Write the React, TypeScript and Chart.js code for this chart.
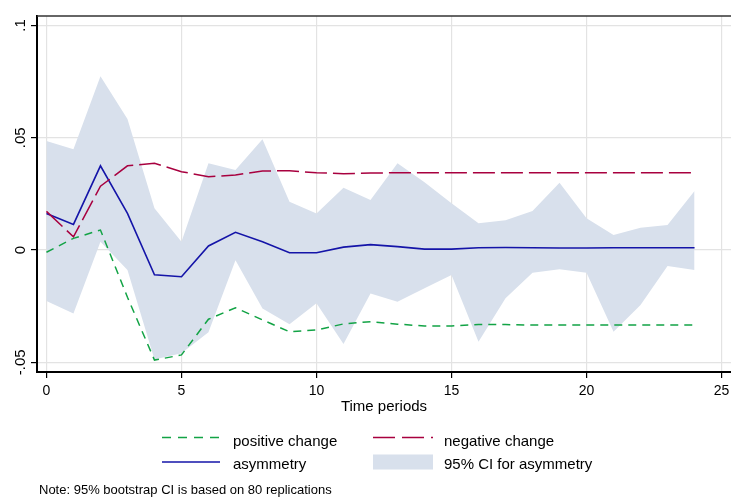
import { useEffect, useRef } from "react";
import { Chart, registerables } from "chart.js";

Chart.register(...registerables);

// ---- data ----
const PERIODS = [0, 1, 2, 3, 4, 5, 6, 7, 8, 9, 10, 11, 12, 13, 14, 15, 16, 17, 18, 19, 20, 21, 22, 23, 24];
const POSITIVE = [-0.001, 0.0052, 0.0089, -0.021, -0.049, -0.0467, -0.0308, -0.0257, -0.0311, -0.0364, -0.0356, -0.0329, -0.0319, -0.033, -0.0338, -0.0338, -0.0332, -0.0332, -0.0334, -0.0334, -0.0334, -0.0334, -0.0334, -0.0334, -0.0334];
const NEGATIVE = [0.0172, 0.0059, 0.0284, 0.0375, 0.0386, 0.0349, 0.0326, 0.0334, 0.0352, 0.0353, 0.0344, 0.034, 0.0343, 0.0344, 0.0344, 0.0344, 0.0344, 0.0344, 0.0344, 0.0344, 0.0344, 0.0344, 0.0344, 0.0344, 0.0344];
const ASYMMETRY = [0.0163, 0.0114, 0.0375, 0.0163, -0.011, -0.0119, 0.0018, 0.0079, 0.0037, -0.0012, -0.0012, 0.0013, 0.0024, 0.0015, 0.0004, 0.0004, 0.001, 0.0011, 0.001, 0.0009, 0.0009, 0.001, 0.001, 0.001, 0.001];
const CI_UPPER = [0.0485, 0.0449, 0.0774, 0.0583, 0.0186, 0.0037, 0.0386, 0.0356, 0.0493, 0.0215, 0.0163, 0.0277, 0.0223, 0.0386, 0.0302, 0.0208, 0.0119, 0.0133, 0.0174, 0.03, 0.0141, 0.0067, 0.0099, 0.0111, 0.0263];
const CI_LOWER = [-0.0227, -0.0282, 0.0037, -0.0089, -0.0487, -0.046, -0.0366, -0.0045, -0.026, -0.033, -0.0237, -0.0418, -0.0193, -0.023, -0.017, -0.0111, -0.0408, -0.0215, -0.0101, -0.0086, -0.0101, -0.0364, -0.0245, -0.0071, -0.0089];

const X_TICKS = [0, 5, 10, 15, 20, 25];
const X_TICK_LABELS = ["0", "5", "10", "15", "20", "25"];
const Y_TICKS = [-0.05, 0, 0.05, 0.1];
const Y_TICK_LABELS = ["-.05", "0", ".05", ".1"];
const X_MIN = -0.35;
const X_MAX = 25.35;
const Y_MIN = -0.0543;
const Y_MAX = 0.1042;

const X_TITLE = "Time periods";
const LEGEND_LABELS = ["positive change", "negative change", "asymmetry", "95% CI for asymmetry"];
const NOTE = "Note: 95% bootstrap CI is based on 80 replications";

// ---- styles ----
const FONT = '"Liberation Sans", Arial, Helvetica, sans-serif';
const GREEN = "#12a345";
const RED = "#a8003f";
const BLUE = "#1414a8";
const BAND = "#d8e0ec";
const GRID = "#e3e3e3";

const pts = (ys: number[]) => PERIODS.map((x, i) => ({ x, y: ys[i] }));

export default function App() {
  const ref = useRef<HTMLCanvasElement>(null);

  useEffect(() => {
    if (!ref.current) return;
    const frame = {
      id: "frameTop",
      afterDraw(chart: any) {
        const { ctx, chartArea } = chart;
        ctx.save();
        ctx.strokeStyle = "#333";
        ctx.lineWidth = 1.5;
        ctx.beginPath();
        ctx.moveTo(chartArea.left, chartArea.top);
        ctx.lineTo(chartArea.right, chartArea.top);
        ctx.stroke();
        ctx.restore();
      },
    };
    const chart = new Chart(ref.current, {
      type: "line",
      data: {
        datasets: [
          { label: LEGEND_LABELS[0], data: pts(POSITIVE), borderColor: GREEN, borderWidth: 1.5, borderDash: [8, 6], pointRadius: 0, fill: false, tension: 0 },
          { label: LEGEND_LABELS[1], data: pts(NEGATIVE), borderColor: RED, borderWidth: 1.5, borderDash: [22, 6], pointRadius: 0, fill: false, tension: 0 },
          { label: LEGEND_LABELS[2], data: pts(ASYMMETRY), borderColor: BLUE, borderWidth: 1.6, pointRadius: 0, fill: false, tension: 0 },
          { label: "ci upper", data: pts(CI_UPPER), borderColor: BAND, borderWidth: 0, backgroundColor: BAND, pointRadius: 0, fill: "+1", tension: 0 },
          { label: "ci lower", data: pts(CI_LOWER), borderColor: BAND, borderWidth: 0, pointRadius: 0, fill: false, tension: 0 },
        ],
      },
      options: {
        animation: false,
        responsive: false,
        devicePixelRatio: 1,
        layout: { padding: { top: 16, left: 0, right: 0, bottom: 0 } },
        plugins: { legend: { display: false }, tooltip: { enabled: false } },
        scales: {
          x: {
            type: "linear",
            min: X_MIN,
            max: X_MAX,
            afterBuildTicks: (s: any) => { s.ticks = X_TICKS.map((v) => ({ value: v })); },
            afterFit: (s: any) => { s.height = 125; s.paddingLeft = 0; s.paddingRight = 0; },
            ticks: {
              autoSkip: false,
              maxRotation: 0,
              minRotation: 0,
              padding: 5,
              color: "#000",
              font: { family: FONT, size: 14 },
              callback: (_v: any, i: number) => X_TICK_LABELS[i],
            },
            grid: { color: GRID, lineWidth: 1.2, drawTicks: true, tickLength: 6, tickColor: "#000", tickWidth: 1.2 },
            border: { display: true, color: "#000", width: 2 },
            title: { display: true, text: X_TITLE, color: "#000", font: { family: FONT, size: 15 }, padding: { top: 0, bottom: 81 } },
          },
          y: {
            type: "linear",
            min: Y_MIN,
            max: Y_MAX,
            afterBuildTicks: (s: any) => { s.ticks = Y_TICKS.map((v) => ({ value: v })); },
            afterFit: (s: any) => { s.width = 37; s.paddingTop = 0; s.paddingBottom = 0; },
            ticks: {
              minRotation: 90,
              maxRotation: 90,
              crossAlign: "center",
              padding: -3,
              color: "#000",
              font: { family: FONT, size: 15 },
              callback: (_v: any, i: number) => Y_TICK_LABELS[i],
            },
            grid: { color: GRID, lineWidth: 1.2, drawTicks: true, tickLength: 6, tickColor: "#000", tickWidth: 1.2 },
            border: { display: true, color: "#000", width: 2 },
          },
        },
      },
      plugins: [frame],
    } as any);
    return () => chart.destroy();
  }, []);

  const text = (left: number, top: number, size: number, s: string) => (
    <div style={{ position: "absolute", left, top, fontSize: size, lineHeight: `${size}px`, whiteSpace: "nowrap", color: "#000" }}>{s}</div>
  );

  return (
    <div style={{ position: "absolute", left: 0, top: 0, width: 731, height: 497, overflow: "hidden", background: "#fff", fontFamily: FONT }}>
      <canvas ref={ref} width={731} height={497} style={{ position: "absolute", left: 0, top: 0 }} />
      <svg width={731} height={497} style={{ position: "absolute", left: 0, top: 0 }}>
        <line x1={162} x2={220} y1={437.5} y2={437.5} stroke={GREEN} strokeWidth={1.5} strokeDasharray="9 7" />
        <line x1={373} x2={433} y1={437.5} y2={437.5} stroke={RED} strokeWidth={1.5} strokeDasharray="22 7" />
        <line x1={162} x2={220} y1={462} y2={462} stroke={BLUE} strokeWidth={1.6} />
        <rect x={373} y={454.5} width={60} height={15} fill={BAND} />
      </svg>
      {text(233, 433, 15, LEGEND_LABELS[0])}
      {text(444, 433, 15, LEGEND_LABELS[1])}
      {text(233, 455.5, 15, LEGEND_LABELS[2])}
      {text(444, 455.5, 15, LEGEND_LABELS[3])}
      {text(39, 483, 13, NOTE)}
    </div>
  );
}
